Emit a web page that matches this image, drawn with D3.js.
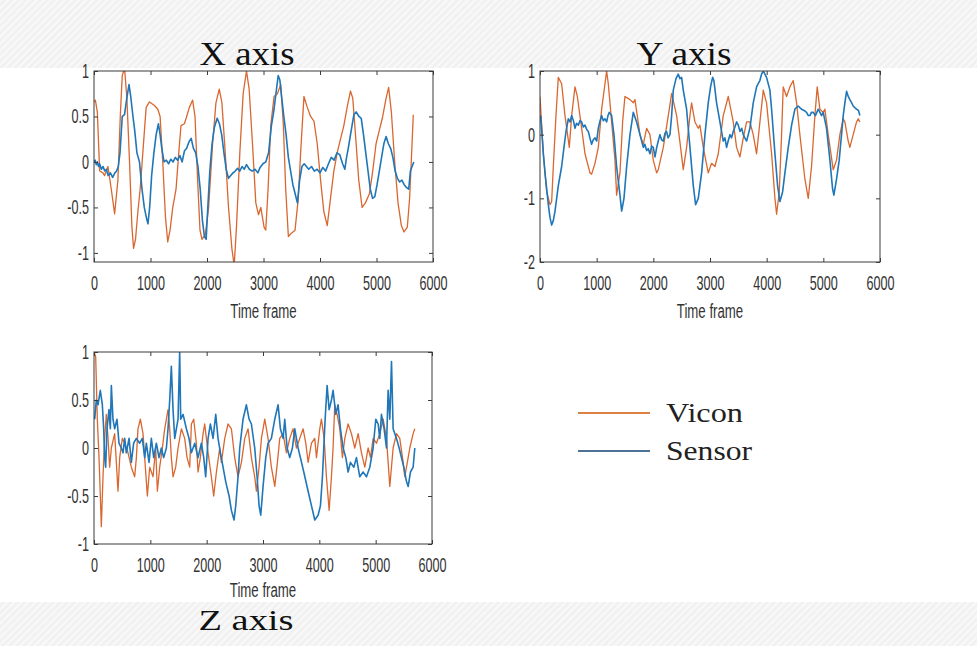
<!DOCTYPE html>
<html>
<head>
<meta charset="utf-8">
<script src="https://cdn.jsdelivr.net/npm/d3@7"></script>
<style>
  html, body { margin: 0; padding: 0; background: #ffffff; }
  svg { display: block; }
</style>
</head>
<body>
<svg id="chart" width="977" height="646"></svg>
<script>
// ---------------- DATA ----------------
const frameTicks = [0, 1000, 2000, 3000, 4000, 5000, 6000];
const xPanelTicks = [-1, -0.5, 0, 0.5, 1];
const yPanelTicks = [-2, -1, 0, 1];
const zPanelTicks = [-1, -0.5, 0, 0.5, 1];
const seriesNames = ["Vicon", "Sensor"];
const panelTitles = ["X axis", "Y axis", "Z axis"];
const axisLabel = "Time frame";

// [time frame, value]
const xVicon = [[0,0.66],[24,0.68],[59,0.55],[100,-0.1],[159,-0.12],[188,-0.15],[247,-0.05],[306,-0.3],[365,-0.57],[423,-0.2],[465,0.5],[500,0.95],[541,1.03],[582,0.7],[629,0],[670,-0.7],[700,-0.95],[735,-0.85],[776,-0.55],[817,-0.3],[864,0.1],[923,0.6],[982,0.66],[1070,0.62],[1129,0.58],[1170,0.5],[1217,0],[1264,-0.6],[1305,-0.88],[1346,-0.75],[1394,-0.5],[1452,-0.3],[1500,0.1],[1540,0.4],[1600,0.42],[1640,0.5],[1688,0.6],[1746,0.68],[1788,0.5],[1834,-0.2],[1876,-0.75],[1911,-0.85],[1970,-0.8],[2029,-0.5],[2099,0.2],[2158,0.65],[2217,0.8],[2264,0.65],[2323,0.1],[2381,-0.5],[2440,-0.95],[2481,-1.14],[2523,-0.7],[2581,0.1],[2640,0.75],[2699,1.0],[2746,0.8],[2805,0.2],[2864,-0.45],[2911,-0.58],[2952,-0.5],[3011,-0.72],[3040,-0.75],[3081,-0.3],[3128,0.4],[3187,0.72],[3246,0.75],[3305,0.85],[3352,0.4],[3393,-0.3],[3440,-0.82],[3499,-0.78],[3558,-0.75],[3616,-0.4],[3657,0.1],[3716,0.72],[3775,0.6],[3834,0.5],[3893,0.45],[3951,0.2],[4010,-0.2],[4069,-0.55],[4128,-0.7],[4186,-0.4],[4245,-0.1],[4304,0.1],[4363,0.25],[4422,0.4],[4480,0.6],[4539,0.78],[4580,0.7],[4628,0.3],[4686,-0.2],[4745,-0.5],[4804,-0.45],[4875,-0.35],[4933,-0.1],[4992,0.2],[5051,0.35],[5110,0.5],[5169,0.7],[5215,0.82],[5263,0.55],[5322,0.0],[5381,-0.45],[5440,-0.7],[5486,-0.77],[5545,-0.72],[5586,-0.4],[5615,0.0],[5651,0.52]];

const xSensor = [[0,0.0],[20,0.02],[40,-0.03],[60,0.0],[80,-0.05],[100,-0.02],[130,-0.08],[160,-0.05],[190,-0.1],[220,-0.08],[250,-0.15],[290,-0.12],[330,-0.17],[370,-0.12],[400,-0.1],[430,-0.05],[460,0.1],[500,0.5],[540,0.52],[580,0.7],[620,0.85],[650,0.72],[690,0.5],[720,0.35],[760,0.1],[805,0.0],[850,-0.3],[890,-0.5],[930,-0.62],[955,-0.68],[985,-0.5],[1020,-0.15],[1060,0.1],[1100,0.3],[1140,0.42],[1170,0.3],[1200,0.15],[1240,0.0],[1280,0.02],[1320,-0.02],[1360,0.03],[1400,0.0],[1440,0.05],[1480,0.02],[1520,0.07],[1560,0.0],[1600,0.12],[1640,0.15],[1680,0.22],[1720,0.26],[1760,0.15],[1800,0.1],[1840,-0.05],[1880,-0.3],[1920,-0.65],[1955,-0.82],[1985,-0.85],[2010,-0.55],[2050,-0.1],[2090,0.2],[2130,0.38],[2180,0.48],[2220,0.42],[2260,0.3],[2300,0.1],[2340,-0.08],[2380,-0.18],[2420,-0.15],[2460,-0.12],[2500,-0.1],[2540,-0.07],[2580,-0.1],[2620,-0.05],[2660,-0.08],[2700,-0.03],[2750,-0.08],[2800,-0.1],[2850,-0.08],[2900,-0.12],[2940,-0.06],[2990,-0.02],[3040,0.0],[3090,0.1],[3140,0.4],[3180,0.55],[3220,0.75],[3260,0.95],[3290,0.9],[3320,0.72],[3360,0.5],[3400,0.3],[3440,0.05],[3480,-0.1],[3520,-0.25],[3560,-0.35],[3600,-0.45],[3640,-0.2],[3680,-0.05],[3720,-0.02],[3760,-0.05],[3800,-0.08],[3850,-0.05],[3900,-0.1],[3950,-0.08],[4000,-0.12],[4050,-0.06],[4100,-0.1],[4150,-0.02],[4200,0.05],[4250,0.02],[4300,0.1],[4350,0.08],[4400,-0.02],[4440,-0.08],[4470,0.05],[4500,0.15],[4540,0.3],[4600,0.52],[4640,0.55],[4690,0.5],[4730,0.48],[4770,0.3],[4810,0.1],[4850,-0.1],[4890,-0.3],[4930,-0.4],[4970,-0.38],[5010,-0.25],[5050,-0.1],[5090,0.05],[5130,0.2],[5170,0.28],[5210,0.2],[5250,0.15],[5290,0.05],[5330,-0.1],[5370,-0.18],[5410,-0.22],[5450,-0.2],[5490,-0.25],[5530,-0.28],[5570,-0.3],[5600,-0.1],[5630,-0.05],[5660,0.0]];

const yVicon = [[0,0.6],[59,-0.3],[118,-0.9],[176,-1.1],[206,-1.05],[235,-0.5],[282,0.3],[323,0.9],[382,0.8],[441,0.3],[517,-0.2],[559,0.3],[617,0.75],[659,0.6],[735,0.1],[794,-0.3],[882,-0.6],[911,-0.62],[970,-0.45],[1029,-0.2],[1088,0.4],[1176,1.0],[1205,0.8],[1264,0.2],[1323,-0.4],[1352,-0.95],[1411,-0.6],[1458,0.2],[1499,0.6],[1588,0.55],[1646,0.5],[1676,0.55],[1764,0.0],[1823,-0.15],[1882,0.1],[1940,0.0],[1999,-0.4],[2058,-0.6],[2087,-0.55],[2176,-0.2],[2264,0.3],[2323,0.65],[2411,0.3],[2481,-0.2],[2528,-0.55],[2587,-0.2],[2646,0.3],[2675,0.5],[2734,0.2],[2793,0.1],[2822,0.15],[2881,-0.2],[2969,-0.6],[3028,-0.45],[3087,-0.5],[3146,-0.3],[3234,0.3],[3322,0.6],[3410,0.2],[3469,-0.2],[3528,-0.35],[3587,-0.05],[3646,0.2],[3704,0.2],[3763,0.0],[3822,-0.3],[3881,0.2],[3940,0.7],[3998,0.5],[4087,-0.3],[4146,-1.0],[4175,-1.25],[4222,-0.9],[4263,0.0],[4292,0.75],[4351,0.6],[4410,0.75],[4469,0.85],[4528,0.5],[4586,0.0],[4675,-0.7],[4734,-1.0],[4792,-0.5],[4851,0.3],[4892,0.75],[4939,0.4],[4998,0.35],[5027,0.4],[5086,0.0],[5174,-0.55],[5233,-0.4],[5292,0.0],[5351,0.25],[5380,0.2],[5439,-0.1],[5468,-0.2],[5527,0.0],[5586,0.2],[5615,0.25],[5645,0.2]];

const ySensor = [[12,0.3],[59,-0.3],[88,-0.6],[147,-1.1],[176,-1.3],[206,-1.42],[235,-1.35],[265,-1.2],[323,-0.8],[382,-0.5],[423,-0.2],[459,0.05],[500,0.25],[529,0.2],[559,0.3],[590,0.22],[617,0.1],[645,0.18],[676,0.15],[705,0.22],[735,0.2],[765,0.12],[794,0.15],[825,0.08],[853,0.05],[880,-0.05],[911,-0.15],[940,-0.08],[970,-0.05],[1000,-0.1],[1029,0.1],[1060,0.22],[1088,0.3],[1118,0.22],[1147,0.25],[1176,0.2],[1200,0.3],[1223,0.35],[1264,0.3],[1305,0.0],[1352,-0.5],[1411,-0.95],[1441,-1.2],[1482,-1.0],[1529,-0.5],[1588,0.0],[1646,0.35],[1705,0.2],[1764,0.0],[1823,-0.2],[1850,-0.15],[1882,-0.25],[1910,-0.22],[1940,-0.3],[1970,-0.18],[1999,-0.2],[2029,-0.35],[2060,-0.2],[2087,-0.1],[2117,0.0],[2145,-0.08],[2176,-0.1],[2205,0.02],[2234,0.05],[2260,-0.05],[2293,0.0],[2323,0.3],[2352,0.7],[2400,0.88],[2440,0.95],[2470,0.88],[2499,0.9],[2528,0.7],[2587,0.4],[2646,-0.2],[2705,-0.8],[2746,-1.1],[2793,-1.0],[2852,-0.6],[2911,0.0],[2969,0.5],[3010,0.75],[3046,0.9],[3069,0.85],[3116,0.5],[3175,0.2],[3234,-0.1],[3263,-0.05],[3293,-0.2],[3320,-0.1],[3352,0.0],[3380,-0.05],[3410,0.05],[3440,0.12],[3469,0.2],[3499,0.15],[3530,0.05],[3560,0.1],[3587,0.0],[3615,-0.05],[3646,-0.1],[3675,0.0],[3704,0.1],[3763,0.5],[3822,0.75],[3851,0.8],[3880,0.85],[3910,0.95],[3940,1.0],[3998,0.9],[4057,0.7],[4087,0.4],[4146,-0.3],[4193,-0.8],[4234,-1.05],[4281,-0.9],[4322,-0.6],[4381,-0.2],[4440,0.15],[4498,0.4],[4557,0.45],[4590,0.42],[4616,0.4],[4660,0.38],[4704,0.35],[4735,0.3],[4763,0.3],[4790,0.35],[4822,0.35],[4860,0.3],[4910,0.4],[4940,0.35],[4969,0.3],[4998,0.35],[5057,0.1],[5116,-0.4],[5163,-0.85],[5186,-0.95],[5233,-0.7],[5280,-0.4],[5321,0.0],[5351,0.3],[5380,0.5],[5410,0.68],[5440,0.6],[5468,0.55],[5500,0.5],[5527,0.45],[5560,0.42],[5586,0.4],[5620,0.38],[5645,0.3]];

const zVicon = [[0,1.0],[30,0.95],[59,0.3],[89,-0.1],[101,-0.3],[130,-0.82],[160,-0.3],[189,0.1],[219,0.35],[249,0.1],[278,-0.2],[308,0.0],[367,0.15],[426,-0.45],[456,-0.1],[503,0.1],[545,0.05],[604,-0.05],[663,-0.2],[722,-0.3],[752,-0.1],[781,0.2],[823,0.3],[870,0.15],[900,-0.1],[947,-0.5],[989,-0.2],[1048,-0.3],[1095,0.0],[1125,-0.45],[1166,-0.2],[1214,0.0],[1255,0.2],[1314,0.4],[1344,0.2],[1373,-0.1],[1403,-0.3],[1450,-0.2],[1492,0.0],[1551,0.2],[1610,0.1],[1652,-0.1],[1699,-0.2],[1729,0.25],[1770,0.3],[1817,0.05],[1847,-0.25],[1888,-0.1],[1936,0.15],[1965,0.25],[2025,-0.05],[2084,-0.3],[2125,-0.5],[2173,-0.25],[2232,0.0],[2261,-0.15],[2321,0.1],[2380,0.25],[2439,0.2],[2498,-0.1],[2557,-0.3],[2617,-0.15],[2676,0.1],[2735,0.2],[2794,-0.1],[2853,-0.3],[2883,-0.45],[2930,-0.2],[2972,0.1],[3031,0.3],[3090,0.1],[3149,-0.2],[3209,-0.4],[3256,-0.15],[3297,0.1],[3357,0.15],[3416,-0.05],[3475,0.1],[3534,0.2],[3593,0.0],[3653,0.1],[3712,0.2],[3759,0.05],[3801,-0.15],[3860,0.05],[3919,0.1],[3949,-0.1],[4008,0.2],[4037,0.3],[4085,0.1],[4126,-0.3],[4174,-0.65],[4215,-0.3],[4244,0.0],[4274,0.45],[4316,0.35],[4363,0.2],[4410,-0.1],[4452,0.1],[4511,0.25],[4570,0.15],[4629,0.0],[4689,0.15],[4748,-0.05],[4807,-0.2],[4866,0.0],[4908,-0.1],[4955,0.1],[5014,0.05],[5073,0.15],[5133,0.3],[5192,0.1],[5251,-0.4],[5310,0.0],[5369,0.15],[5428,0.1],[5488,-0.15],[5517,-0.3],[5577,-0.1],[5606,0.0],[5665,0.15],[5695,0.2]];

const zSensor = [[12,0.3],[41,0.5],[71,0.45],[112,0.6],[148,0.45],[172,0.2],[189,-0.1],[207,-0.2],[231,0.2],[266,0.4],[290,0.2],[308,0.65],[337,0.3],[367,0.2],[408,0.3],[444,0.05],[485,0.0],[515,-0.05],[545,0.1],[574,-0.05],[622,0.1],[663,-0.15],[704,0.05],[752,0.1],[811,0.05],[858,0.1],[900,-0.1],[929,0.05],[977,-0.15],[1018,0.1],[1060,-0.1],[1107,0.05],[1154,-0.1],[1196,0.0],[1237,-0.1],[1285,0.0],[1314,0.2],[1344,0.5],[1373,0.85],[1403,0.4],[1433,0.1],[1462,0.2],[1492,0.3],[1521,1.0],[1539,0.3],[1581,0.35],[1640,0.2],[1687,0.1],[1729,-0.05],[1788,0.05],[1847,-0.1],[1906,0.05],[1948,-0.1],[1983,-0.3],[2025,0.1],[2066,0.25],[2113,0.1],[2161,0.35],[2202,0.1],[2244,-0.05],[2291,-0.2],[2338,-0.35],[2398,-0.5],[2439,-0.65],[2486,-0.75],[2516,-0.6],[2557,-0.3],[2587,0.0],[2646,0.3],[2705,0.45],[2753,0.3],[2794,0.25],[2853,0.0],[2895,-0.3],[2930,-0.6],[2960,-0.7],[3001,-0.4],[3049,-0.1],[3090,0.05],[3149,0.1],[3209,0.3],[3268,0.45],[3309,0.2],[3357,0.1],[3386,0.3],[3428,0.0],[3475,-0.1],[3522,0.0],[3564,0.2],[3623,0.0],[3664,-0.1],[3724,-0.25],[3801,-0.45],[3860,-0.6],[3919,-0.75],[3978,-0.7],[4020,-0.6],[4055,-0.3],[4079,0.0],[4103,0.3],[4138,0.65],[4174,0.4],[4215,0.5],[4244,0.6],[4292,0.35],[4333,0.45],[4375,0.2],[4422,0.0],[4470,-0.1],[4511,-0.25],[4552,-0.15],[4612,-0.2],[4659,-0.1],[4718,-0.3],[4777,-0.25],[4837,-0.3],[4896,-0.2],[4955,0.0],[5002,0.3],[5044,0.25],[5073,0.1],[5103,0.35],[5150,0.2],[5192,0.0],[5221,0.6],[5251,0.3],[5281,0.9],[5310,0.2],[5369,0.1],[5417,0.0],[5458,-0.1],[5500,-0.2],[5547,-0.35],[5577,-0.4],[5618,-0.25],[5665,-0.2],[5695,0.0]];

// ---------------- STYLE ----------------
const viconColor = "#d9672f";
const sensorColor = "#1f76b8";
const legendVicon = "#dc8044";
const legendSensor = "#4e7197";
const tickFont = "'Liberation Sans', Arial, sans-serif";
const serifFont = "'Liberation Serif', 'Times New Roman', serif";
const squeeze = 0.63;

const svg = d3.select("#chart");

// textured background bands
const defs = svg.append("defs");
const pat = defs.append("pattern").attr("id", "tex").attr("patternUnits", "userSpaceOnUse")
  .attr("width", 5).attr("height", 5).attr("patternTransform", "rotate(45)");
pat.append("rect").attr("width", 5).attr("height", 5).attr("fill", "#f1f1f1");
pat.append("rect").attr("width", 2).attr("height", 5).attr("fill", "#f9f9f9");
svg.append("rect").attr("x", 0).attr("y", 0).attr("width", 977).attr("height", 68).attr("fill", "url(#tex)");
svg.append("rect").attr("x", 0).attr("y", 602).attr("width", 977).attr("height", 44).attr("fill", "url(#tex)");

const panels = [
  { id: "px", left: 94, right: 433, top: 71, bottom: 262, yDomain: [-1.1, 1], yTicks: xPanelTicks, vicon: xVicon, sensor: xSensor, labelGap: 56 },
  { id: "py", left: 540, right: 880, top: 71, bottom: 262, yDomain: [-2, 1], yTicks: yPanelTicks, vicon: yVicon, sensor: ySensor, labelGap: 56 },
  { id: "pz", left: 94, right: 432, top: 352, bottom: 544, yDomain: [-1, 1], yTicks: zPanelTicks, vicon: zVicon, sensor: zSensor, labelGap: 53 }
];

panels.forEach(p => {
  const x = d3.scaleLinear().domain([0, 6000]).range([p.left, p.right]);
  const y = d3.scaleLinear().domain(p.yDomain).range([p.bottom, p.top]);
  const g = svg.append("g");

  defs.append("clipPath").attr("id", "clip-" + p.id).append("rect")
    .attr("x", p.left).attr("y", p.top).attr("width", p.right - p.left).attr("height", p.bottom - p.top);

  g.append("rect").attr("x", p.left).attr("y", p.top).attr("width", p.right - p.left).attr("height", p.bottom - p.top)
    .attr("fill", "#ffffff");

  const line = d3.line().x(d => x(d[0])).y(d => y(d[1]));
  const lines = g.append("g").attr("clip-path", "url(#clip-" + p.id + ")");
  lines.append("path").datum(p.vicon).attr("d", line).attr("fill", "none")
    .attr("stroke", viconColor).attr("stroke-width", 1.3).attr("stroke-linejoin", "round");
  lines.append("path").datum(p.sensor).attr("d", line).attr("fill", "none")
    .attr("stroke", sensorColor).attr("stroke-width", 1.6).attr("stroke-linejoin", "round");

  // axes
  const axB = d3.axisBottom(x).tickValues(frameTicks).tickSize(-4).tickPadding(14).tickFormat(d3.format("d"));
  const axT = d3.axisTop(x).tickValues(frameTicks).tickSize(-4).tickFormat("");
  const axL = d3.axisLeft(y).tickValues(p.yTicks).tickSize(-4).tickPadding(8).tickFormat(d => String(d));
  const axR = d3.axisRight(y).tickValues(p.yTicks).tickSize(-4).tickFormat("");

  const gb = g.append("g").attr("transform", `translate(0,${p.bottom})`).call(axB);
  const gt = g.append("g").attr("transform", `translate(0,${p.top})`).call(axT);
  const gl = g.append("g").attr("transform", `translate(${p.left},0)`).call(axL);
  const gr = g.append("g").attr("transform", `translate(${p.right},0)`).call(axR);
  [gb, gt, gl, gr].forEach(a => {
    a.select(".domain").remove();
    a.selectAll("line").attr("stroke", "#3a3a3a");
    a.selectAll("text").attr("fill", "#333").style("font-family", tickFont).style("font-size", "20px")
      .attr("transform", `scale(${squeeze},1)`);
  });

  g.append("rect").attr("x", p.left).attr("y", p.top).attr("width", p.right - p.left).attr("height", p.bottom - p.top)
    .attr("fill", "none").attr("stroke", "#3a3a3a").attr("stroke-width", 1);

  // x label
  const cx = (p.left + p.right) / 2;
  g.append("text").attr("transform", `translate(${cx},${p.bottom + p.labelGap}) scale(${squeeze},1)`)
    .attr("text-anchor", "middle").attr("fill", "#333")
    .style("font-family", tickFont).style("font-size", "21px").text(axisLabel);
});

// panel titles
const titles = [
  { t: panelTitles[0], cx: 247, y: 65, size: 33 },
  { t: panelTitles[1], cx: 684, y: 65, size: 33 },
  { t: panelTitles[2], cx: 246, y: 630, size: 30 }
];
titles.forEach(o => {
  svg.append("text").attr("x", o.cx).attr("y", o.y).attr("text-anchor", "middle")
    .style("font-family", serifFont).style("font-size", o.size + "px").attr("fill", "#111")
    .attr("textLength", 95).attr("lengthAdjust", "spacingAndGlyphs").text(o.t);
});

// legend
const legend = svg.append("g");
const legItems = [
  { name: seriesNames[0], color: legendVicon, y: 413, w: 77 },
  { name: seriesNames[1], color: legendSensor, y: 451, w: 86 }
];
legItems.forEach(it => {
  legend.append("line").attr("x1", 578).attr("x2", 650).attr("y1", it.y).attr("y2", it.y)
    .attr("stroke", it.color).attr("stroke-width", 2);
  legend.append("text").attr("x", 666).attr("y", it.y + 9)
    .style("font-family", serifFont).style("font-size", "28px").attr("fill", "#222")
    .attr("textLength", it.w).attr("lengthAdjust", "spacingAndGlyphs").text(it.name);
});
</script>
</body>
</html>
